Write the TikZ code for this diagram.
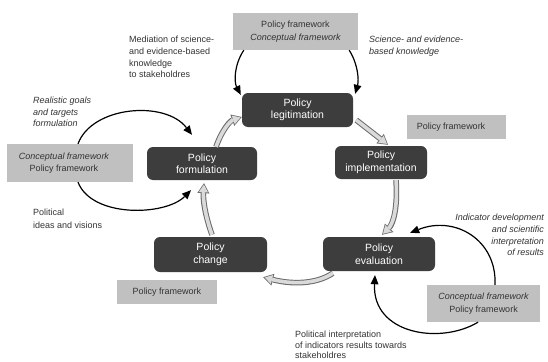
\documentclass[tikz,border=0pt]{standalone}
\usepackage{fontspec}
\setmainfont{Liberation Sans}
\usetikzlibrary{arrows.meta,calc}
\definecolor{darkbox}{HTML}{3D3D3D}
\definecolor{greybox}{HTML}{C0C0C0}
\definecolor{txt}{HTML}{333333}
\definecolor{hollowfill}{HTML}{DADADA}
\definecolor{hollowline}{HTML}{6A6A6A}
\begin{document}
\begin{tikzpicture}[x=1pt,y=-1pt,
  stage/.style={fill=darkbox, rounded corners=6pt, text=white,
    font=\fontsize{10.5}{12.5}\selectfont, align=center, inner sep=0pt},
  frame/.style={fill=greybox, text=txt, font=\fontsize{9}{12.5}\selectfont,
    align=center, inner sep=0pt},
  lbl/.style={text=txt, font=\fontsize{9}{11.7}\selectfont, inner sep=0pt},
  flow/.style={line width=1.2pt, black, -{Triangle[length=9pt,width=8pt,line width=0pt]}},
  hollowout/.style={line width=5.6pt, hollowline, -{Triangle[length=10pt,width=12pt,line width=0pt]}},
  hollowin/.style={line width=3.6pt, hollowfill, shorten >=1.45pt, -{Triangle[length=7.6pt,width=9.2pt,line width=0pt]}},
]
\useasboundingbox (0,0) rectangle (548,361);
\fill[white] (0,0) rectangle (548,361);

% stage nodes
\node[stage, minimum width=111pt, minimum height=34pt] (legit) at (297.5,110) {Policy\\legitimation};
\node[stage, minimum width=110pt, minimum height=33pt] (form) at (202,163.5) {Policy\\formulation};
\node[stage, minimum width=92pt, minimum height=33pt] (impl) at (381,162.5) {Policy\\implementation};
\node[stage, minimum width=112pt, minimum height=34pt] (eval) at (379,254) {Policy\\evaluation};
\node[stage, minimum width=113pt, minimum height=35pt] (change) at (210.5,254.5) {Policy\\change};

% framework boxes
\node[frame, minimum width=125pt, minimum height=37pt] (tbox) at (295.5,31.5) {Policy framework\\\itshape Conceptual framework};
\node[frame, minimum width=126pt, minimum height=38pt] (lbox) at (70,163) {};
\node[lbl, align=center, font=\fontsize{9}{12.5}\selectfont] (ltext) at (64,163) {\itshape Conceptual framework\\Policy framework};
\node[frame, minimum width=99pt, minimum height=24pt] (rpf) at (456.5,127) {};
\node[lbl] (rpftext) at (451,127) {Policy framework};
\node[frame, minimum width=100pt, minimum height=24pt] (bpf) at (167,292) {Policy framework};
\node[frame, minimum width=113pt, minimum height=37pt] (rbox) at (483.5,303.5) {\itshape Conceptual framework\\Policy framework};

% labels
\node[lbl, align=left, anchor=north west] (med) at (129,36) {Mediation of science-\\and evidence-based\\knowledge\\to stakeholdres};
\node[lbl, align=left, anchor=north west, font=\fontsize{9}{11.7}\selectfont\itshape] (sci) at (369,36) {Science- and evidence-\\based knowledge};
\node[lbl, align=left, anchor=north west, font=\fontsize{9}{11.3}\selectfont\itshape] (real) at (33,97) {Realistic goals\\and targets\\formulation};
\node[lbl, align=left, anchor=north west, font=\fontsize{9}{12.5}\selectfont] (pol) at (33,209) {Political\\ideas and visions};
\node[lbl, align=right, anchor=north east, font=\fontsize{9}{11.7}\selectfont\itshape] (ind) at (544,214) {Indicator development\\and scientific\\interpretation\\of results};
\node[lbl, align=left, anchor=north west, font=\fontsize{9}{10.3}\selectfont] (pint) at (295,331) {Political interpretation\\of indicators results towards\\stakeholdres};

% hollow cycle arrows
\foreach \st in {hollowout,hollowin}{
  \draw[\st] ($(form.north)+(14,0)$) .. controls (222,130) and (230,121) .. ($(legit.west)+(0,7)$);
  \draw[\st] ($(legit.east)+(3,10)$) -- ($(impl.north)+(7,-1)$);
  \draw[\st] ($(impl.south)+(15,1)$) .. controls (398,208) and (393,224) .. ($(eval.north)+(3,-2)$);
  \draw[\st] ($(eval.south west)+(10,2)$) .. controls (315,285) and (290,284) .. ($(change.south east)+(-4,5)$);
  \draw[\st] ($(change.north)+(1.5,-2)$) .. controls (205,215) and (203,200) .. ($(form.south)+(2,3)$);
}

% black arrows
\draw[flow] ($(tbox.south west)+(11,0)$) .. controls (234,65) and (234,82) .. ($(legit.north west)+(-1,2)$);
\draw[flow] ($(tbox.south east)+(-9,0)$) .. controls (358,64) and (359,80) .. ($(legit.north east)+(2,1)$);
\draw[flow] ($(lbox.north)+(8,0)$) .. controls (92,106) and (165,100) .. ($(form.north)+(-10,-12)$);
\draw[flow] ($(lbox.south)+(8,0)$) .. controls (92,218) and (165,216) .. ($(form.south)+(-11,10)$);
\draw[flow] ($(rbox.north)+(11.5,0)$) .. controls (497,240) and (455,215) .. ($(eval.north east)+(-25,-4)$);
\draw[flow] ($(rbox.south)+(-5.5,0)$) .. controls (440,345) and (372,334) .. ($(eval.south)+(-4,4)$);
\end{tikzpicture}
\end{document}
